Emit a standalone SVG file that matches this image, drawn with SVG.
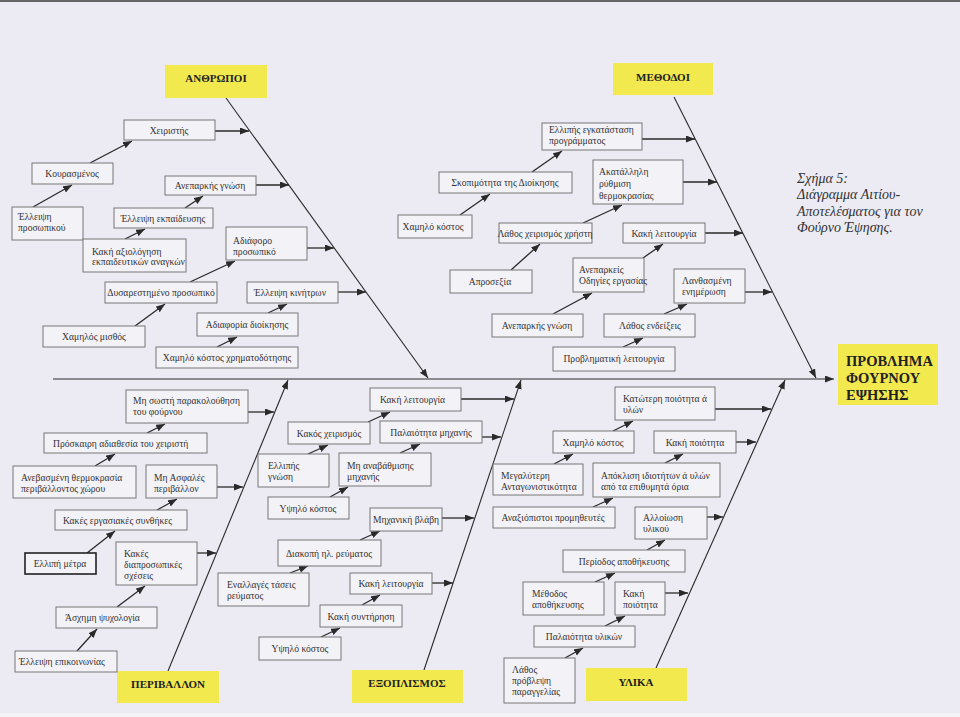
<svg xmlns="http://www.w3.org/2000/svg" width="960" height="717" viewBox="0 0 960 717">
<defs>
<marker id="ah" markerUnits="userSpaceOnUse" markerWidth="10" markerHeight="8" refX="9" refY="3.5" orient="auto">
<path d="M0,0 L9,3.5 L0,7 z" fill="#2a2a2a"/>
</marker>
<style>
.bx{fill:#f3f2f7;stroke:#777;stroke-width:1}
.bxk{fill:#f3f2f7;stroke:#222;stroke-width:1.6}
.t{font-family:"Liberation Serif","Times New Roman","DejaVu Serif",serif;font-size:9.6px;fill:#333}
.c{text-anchor:middle}
.ti{fill:#f2e94e}
.tt{font-family:"Liberation Serif","Times New Roman","DejaVu Serif",serif;font-size:11px;font-weight:bold;fill:#222;text-anchor:middle}
.pt{font-family:"Liberation Serif","Times New Roman","DejaVu Serif",serif;font-size:14.5px;font-weight:bold;fill:#222}
.cap{font-family:"Liberation Serif","Times New Roman","DejaVu Serif",serif;font-size:14px;font-style:italic;fill:#333}
.ln{stroke:#2a2a2a;stroke-width:1.3;fill:none;marker-end:url(#ah)}
.dg{stroke:#2a2a2a;stroke-width:1.1;fill:none;marker-end:url(#ah)}
</style>
</defs>
<rect x="0" y="0" width="960" height="717" fill="#ecebf3"/>
<rect x="0" y="713" width="960" height="4" fill="#f4f4f6"/>
<line x1="0" y1="1" x2="960" y2="1" stroke="#666" stroke-width="2"/>

<g id="caption">
<text class="cap" x="797" y="183">Σχήμα  5:</text>
<text class="cap" x="797" y="199">Διάγραμμα Αιτίου-</text>
<text class="cap" x="797" y="216">Αποτελέσματος για τον</text>
<text class="cap" x="797" y="232">Φούρνο Έψησης.</text>
</g>

<g id="connectors">
<line class="dg" x1="53" y1="379" x2="834" y2="379"/>
<line class="dg" x1="226" y1="98" x2="428" y2="378"/>
<line class="dg" x1="674" y1="97" x2="816" y2="378"/>
<line class="dg" x1="168" y1="671" x2="288" y2="380"/>
<line class="dg" x1="424" y1="670" x2="521" y2="380"/>
<line class="dg" x1="656" y1="668" x2="785" y2="380"/>

<line class="ln" x1="215" y1="131" x2="249" y2="131"/>
<line class="ln" x1="90" y1="163" x2="132" y2="141"/>
<line class="ln" x1="33" y1="207" x2="72" y2="185"/>
<line class="ln" x1="256" y1="185" x2="289" y2="185"/>
<line class="ln" x1="185" y1="208" x2="203" y2="196"/>
<line class="ln" x1="125" y1="239" x2="145" y2="229"/>
<line class="ln" x1="307" y1="248" x2="334" y2="248"/>
<line class="ln" x1="190" y1="282" x2="235" y2="261"/>
<line class="ln" x1="338" y1="292" x2="366" y2="292"/>
<line class="ln" x1="135" y1="326" x2="165" y2="304"/>
<line class="ln" x1="268" y1="313" x2="287" y2="304"/>
<line class="ln" x1="217" y1="347" x2="237" y2="337"/>

<line class="ln" x1="642" y1="139" x2="695" y2="139"/>
<line class="ln" x1="532" y1="172" x2="562" y2="151"/>
<line class="ln" x1="683" y1="182" x2="717" y2="182"/>
<line class="ln" x1="460" y1="215" x2="490" y2="194"/>
<line class="ln" x1="583" y1="223" x2="622" y2="205"/>
<line class="ln" x1="705" y1="233" x2="743" y2="233"/>
<line class="ln" x1="511" y1="270" x2="540" y2="244"/>
<line class="ln" x1="643" y1="258" x2="663" y2="244"/>
<line class="ln" x1="745" y1="292" x2="772" y2="292"/>
<line class="ln" x1="553" y1="314" x2="592" y2="293"/>
<line class="ln" x1="664" y1="314" x2="687" y2="304"/>
<line class="ln" x1="623" y1="347" x2="643" y2="338"/>

<line class="ln" x1="248" y1="412" x2="274" y2="412"/>
<line class="ln" x1="147" y1="433" x2="165" y2="424"/>
<line class="ln" x1="95" y1="466" x2="115" y2="454"/>
<line class="ln" x1="217" y1="487" x2="243" y2="487"/>
<line class="ln" x1="157" y1="510" x2="177" y2="499"/>
<line class="ln" x1="87" y1="553" x2="115" y2="531"/>
<line class="ln" x1="197" y1="553" x2="216" y2="553"/>
<line class="ln" x1="117" y1="607" x2="145" y2="586"/>
<line class="ln" x1="77" y1="651" x2="97" y2="629"/>

<line class="ln" x1="461" y1="399" x2="514" y2="399"/>
<line class="ln" x1="368" y1="422" x2="390" y2="412"/>
<line class="ln" x1="482" y1="437" x2="501" y2="437"/>
<line class="ln" x1="308" y1="454" x2="328" y2="445"/>
<line class="ln" x1="400" y1="453" x2="420" y2="444"/>
<line class="ln" x1="330" y1="497" x2="348" y2="487"/>
<line class="ln" x1="442" y1="518" x2="474" y2="518"/>
<line class="ln" x1="360" y1="540" x2="380" y2="531"/>
<line class="ln" x1="290" y1="573" x2="308" y2="566"/>
<line class="ln" x1="432" y1="583" x2="453" y2="583"/>
<line class="ln" x1="362" y1="605" x2="380" y2="595"/>
<line class="ln" x1="321" y1="637" x2="340" y2="628"/>

<line class="ln" x1="715" y1="409" x2="771" y2="409"/>
<line class="ln" x1="613" y1="431" x2="633" y2="421"/>
<line class="ln" x1="736" y1="442" x2="756" y2="442"/>
<line class="ln" x1="554" y1="464" x2="573" y2="454"/>
<line class="ln" x1="665" y1="463" x2="683" y2="454"/>
<line class="ln" x1="593" y1="507" x2="613" y2="498"/>
<line class="ln" x1="707" y1="517" x2="723" y2="517"/>
<line class="ln" x1="647" y1="550" x2="665" y2="540"/>
<line class="ln" x1="595" y1="582" x2="615" y2="573"/>
<line class="ln" x1="665" y1="593" x2="688" y2="593"/>
<line class="ln" x1="605" y1="626" x2="625" y2="616"/>
<line class="ln" x1="565" y1="658" x2="583" y2="648"/>
</g>

<g id="t-anthropoi"><rect class="ti" x="165" y="65" width="102" height="33"/><text class="tt" x="216" y="82">ΑΝΘΡΩΠΟΙ</text></g>
<g id="t-methodoi"><rect class="ti" x="613" y="63" width="100" height="32"/><text class="tt" x="663" y="81">ΜΕΘΟΔΟΙ</text></g>
<g id="t-perivallon"><rect class="ti" x="117" y="671" width="102" height="32"/><text class="tt" x="168" y="688">ΠΕΡΙΒΑΛΛΟΝ</text></g>
<g id="t-exoplismos"><rect class="ti" x="352" y="670" width="111" height="33"/><text class="tt" x="407" y="687">ΕΞΟΠΛΙΣΜΟΣ</text></g>
<g id="t-ylika"><rect class="ti" x="586" y="668" width="101" height="33"/><text class="tt" x="636" y="686">ΥΛΙΚΑ</text></g>
<g id="problem"><rect class="ti" x="838" y="344" width="100" height="61"/>
<text class="pt" x="846" y="366">ΠΡΟΒΛΗΜΑ</text><text class="pt" x="846" y="383">ΦΟΥΡΝΟΥ</text><text class="pt" x="846" y="400">ΕΨΗΣΗΣ</text></g>

<g id="a1"><rect class="bx" x="124" y="120" width="91" height="20"/><text class="t c" x="169" y="134">Χειριστής</text></g>
<g id="a2"><rect class="bx" x="32" y="163" width="81" height="21"/><text class="t c" x="72" y="177">Κουρασμένος</text></g>
<g id="a3"><rect class="bx" x="12" y="207" width="71" height="33"/><text class="t" x="18" y="220">Έλλειψη</text><text class="t" x="18" y="231">προσωπικού</text></g>
<g id="a4"><rect class="bx" x="165" y="176" width="91" height="19"/><text class="t c" x="210" y="189">Ανεπαρκής γνώση</text></g>
<g id="a5"><rect class="bx" x="114" y="208" width="99" height="20"/><text class="t c" x="163" y="222">Έλλειψη εκπαίδευσης</text></g>
<g id="a6"><rect class="bx" x="83" y="239" width="103" height="33"/><text class="t" x="92" y="255">Κακή αξιολόγηση</text><text class="t" x="92" y="265">εκπαιδευτικών αναγκών</text></g>
<g id="a7"><rect class="bx" x="226" y="227" width="81" height="33"/><text class="t" x="233" y="244">Αδιάφορο</text><text class="t" x="233" y="255">προσωπικό</text></g>
<g id="a8"><rect class="bx" x="105" y="282" width="112" height="21"/><text class="t c" x="161" y="296">Δυσαρεστημένο προσωπικό</text></g>
<g id="a9"><rect class="bx" x="247" y="282" width="91" height="21"/><text class="t c" x="290" y="296">Έλλειψη κινήτρων</text></g>
<g id="a10"><rect class="bx" x="43" y="326" width="102" height="21"/><text class="t c" x="94" y="340">Χαμηλός μισθός</text></g>
<g id="a11"><rect class="bx" x="197" y="313" width="101" height="23"/><text class="t c" x="247" y="328">Αδιαφορία διοίκησης</text></g>
<g id="a12"><rect class="bx" x="156" y="347" width="142" height="21"/><text class="t c" x="227" y="361">Χαμηλό κόστος χρηματοδότησης</text></g>

<g id="m1"><rect class="bx" x="542" y="123" width="100" height="27"/><text class="t" x="549" y="133">Ελλιπής  εγκατάσταση</text><text class="t" x="549" y="144">προγράμματος</text></g>
<g id="m2"><rect class="bx" x="439" y="172" width="133" height="21"/><text class="t c" x="505" y="186">Σκοπιμότητα της Διοίκησης</text></g>
<g id="m3"><rect class="bx" x="593" y="160" width="90" height="44"/><text class="t" x="599" y="175">Ακατάλληλη</text><text class="t" x="599" y="187">ρύθμιση</text><text class="t" x="599" y="199">θερμοκρασίας</text></g>
<g id="m4"><rect class="bx" x="398" y="215" width="74" height="23"/><text class="t c" x="433" y="230">Χαμηλό κόστος</text></g>
<g id="m5"><rect class="bx" x="499" y="223" width="93" height="20"/><text class="t c" x="545" y="237">Λάθος χειρισμός χρήστη</text></g>
<g id="m6"><rect class="bx" x="623" y="223" width="82" height="20"/><text class="t c" x="664" y="237">Κακή λειτουργία</text></g>
<g id="m7"><rect class="bx" x="450" y="270" width="82" height="23"/><text class="t c" x="490" y="285">Απροσεξία</text></g>
<g id="m8"><rect class="bx" x="573" y="258" width="71" height="34"/><text class="t" x="579" y="273">Ανεπαρκείς</text><text class="t" x="579" y="284">Οδηγίες εργασίας</text></g>
<g id="m9"><rect class="bx" x="674" y="269" width="71" height="34"/><text class="t" x="682" y="284">Λανθασμένη</text><text class="t" x="682" y="295">ενημέρωση</text></g>
<g id="m10"><rect class="bx" x="492" y="314" width="91" height="23"/><text class="t c" x="537" y="329">Ανεπαρκής γνώση</text></g>
<g id="m11"><rect class="bx" x="604" y="314" width="91" height="23"/><text class="t c" x="650" y="329">Λάθος ενδείξεις</text></g>
<g id="m12"><rect class="bx" x="553" y="347" width="122" height="24"/><text class="t c" x="614" y="362">Προβληματική  λειτουργία</text></g>

<g id="p1"><rect class="bx" x="126" y="390" width="122" height="33"/><text class="t" x="133" y="404">Μη σωστή παρακολούθηση</text><text class="t" x="133" y="415">του φούρνου</text></g>
<g id="p2"><rect class="bx" x="44" y="433" width="163" height="20"/><text class="t" x="53" y="447">Πρόσκαιρη αδιαθεσία του χειριστή</text></g>
<g id="p3"><rect class="bx" x="13" y="466" width="123" height="32"/><text class="t" x="21" y="481">Ανεβασμένη θερμοκρασία</text><text class="t" x="21" y="492">περιβάλλοντος χώρου</text></g>
<g id="p4"><rect class="bx" x="146" y="465" width="71" height="33"/><text class="t" x="154" y="481">Μη Ασφαλές</text><text class="t" x="154" y="492">περιβάλλον</text></g>
<g id="p5"><rect class="bx" x="55" y="510" width="132" height="20"/><text class="t" x="63" y="524">Κακές εργασιακές συνθήκες</text></g>
<g id="p6"><rect class="bxk" x="25" y="553" width="71" height="21"/><text class="t c" x="60" y="567">Ελλιπή μέτρα</text></g>
<g id="p7"><rect class="bx" x="116" y="542" width="81" height="43"/><text class="t" x="124" y="557">Κακές</text><text class="t" x="124" y="568">διαπροσωπικές</text><text class="t" x="124" y="579">σχέσεις</text></g>
<g id="p8"><rect class="bx" x="56" y="607" width="101" height="21"/><text class="t" x="65" y="621">Άσχημη ψυχολογία</text></g>
<g id="p9"><rect class="bx" x="15" y="651" width="102" height="21"/><text class="t" x="19" y="665">Έλλειψη επικοινωνίας</text></g>

<g id="e1"><rect class="bx" x="370" y="388" width="91" height="23"/><text class="t" x="380" y="403">Κακή λειτουργία</text></g>
<g id="e2"><rect class="bx" x="288" y="422" width="82" height="22"/><text class="t c" x="329" y="437">Κακός χειρισμός</text></g>
<g id="e3"><rect class="bx" x="380" y="421" width="102" height="22"/><text class="t c" x="431" y="436">Παλαιότητα μηχανής</text></g>
<g id="e4"><rect class="bx" x="258" y="454" width="71" height="33"/><text class="t" x="268" y="469">Ελλιπής</text><text class="t" x="268" y="480">γνώση</text></g>
<g id="e5"><rect class="bx" x="339" y="453" width="92" height="33"/><text class="t" x="347" y="469">Μη αναβάθμισης</text><text class="t" x="347" y="480">μηχανής</text></g>
<g id="e6"><rect class="bx" x="268" y="497" width="81" height="22"/><text class="t c" x="308" y="512">Υψηλό κόστος</text></g>
<g id="e7"><rect class="bx" x="370" y="508" width="72" height="23"/><text class="t c" x="406" y="523">Μηχανική βλάβη</text></g>
<g id="e8"><rect class="bx" x="278" y="540" width="103" height="26"/><text class="t c" x="329" y="557">Διακοπή ηλ. ρεύματος</text></g>
<g id="e9"><rect class="bx" x="218" y="573" width="91" height="33"/><text class="t" x="227" y="588">Εναλλαγές τάσεις</text><text class="t" x="227" y="599">ρεύματος</text></g>
<g id="e10"><rect class="bx" x="350" y="573" width="82" height="21"/><text class="t c" x="391" y="587">Κακή λειτουργία</text></g>
<g id="e11"><rect class="bx" x="320" y="605" width="82" height="22"/><text class="t c" x="361" y="620">Κακή συντήρηση</text></g>
<g id="e12"><rect class="bx" x="259" y="637" width="82" height="23"/><text class="t c" x="300" y="652">Υψηλό κόστος</text></g>

<g id="y1"><rect class="bx" x="615" y="387" width="100" height="33"/><text class="t" x="623" y="402">Κατώτερη  ποιότητα ά</text><text class="t" x="623" y="413">υλών</text></g>
<g id="y2"><rect class="bx" x="553" y="431" width="81" height="22"/><text class="t c" x="593" y="446">Χαμηλό κόστος</text></g>
<g id="y3"><rect class="bx" x="654" y="431" width="82" height="22"/><text class="t c" x="695" y="446">Κακή ποιότητα</text></g>
<g id="y4"><rect class="bx" x="493" y="464" width="90" height="31"/><text class="t" x="501" y="479">Μεγαλύτερη</text><text class="t" x="501" y="490">Ανταγωνιστικότητα</text></g>
<g id="y5"><rect class="bx" x="593" y="463" width="127" height="34"/><text class="t" x="601" y="479">Απόκλιση ιδιοτήτων  ά υλών</text><text class="t" x="601" y="490">από τα επιθυμητά όρια</text></g>
<g id="y6"><rect class="bx" x="493" y="507" width="122" height="21"/><text class="t c" x="553" y="521">Αναξιόπιστοι προμηθευτές</text></g>
<g id="y7"><rect class="bx" x="635" y="507" width="72" height="32"/><text class="t" x="643" y="521">Αλλοίωση</text><text class="t" x="643" y="532">υλικού</text></g>
<g id="y8"><rect class="bx" x="563" y="550" width="122" height="22"/><text class="t c" x="624" y="565">Περίοδος αποθήκευσης</text></g>
<g id="y9"><rect class="bx" x="523" y="582" width="81" height="33"/><text class="t" x="532" y="597">Μέθοδος</text><text class="t" x="532" y="608">αποθήκευσης</text></g>
<g id="y10"><rect class="bx" x="615" y="582" width="50" height="33"/><text class="t" x="623" y="597">Κακή</text><text class="t" x="623" y="608">ποιότητα</text></g>
<g id="y11"><rect class="bx" x="534" y="626" width="101" height="21"/><text class="t c" x="584" y="640">Παλαιότητα υλικών</text></g>
<g id="y12"><rect class="bx" x="504" y="658" width="71" height="45"/><text class="t" x="512" y="673">Λάθος</text><text class="t" x="512" y="684">πρόβλεψη</text><text class="t" x="512" y="695">παραγγελίας</text></g>
</svg>
